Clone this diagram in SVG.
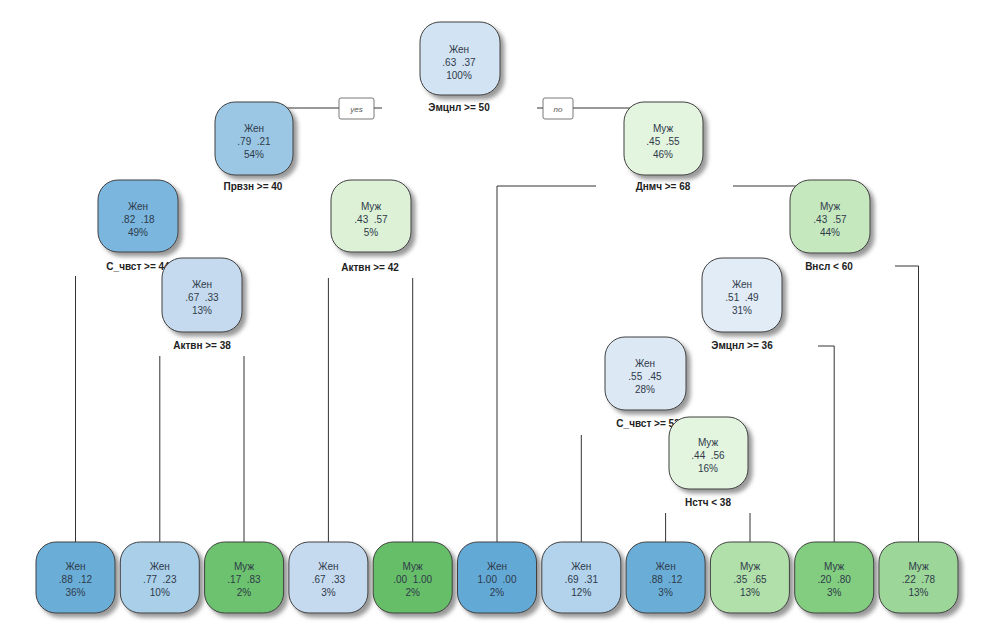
<svg xmlns="http://www.w3.org/2000/svg" width="996" height="640" viewBox="0 0 996 640">
<defs>
<filter id="sh" x="-20%" y="-20%" width="150%" height="150%">
<feDropShadow dx="4" dy="4" stdDeviation="2" flood-color="#777" flood-opacity="0.75"/>
</filter>
<style>
.b{stroke:#404040;stroke-width:1;filter:url(#sh)}
.t{font-family:"Liberation Sans",Arial,sans-serif;font-size:10px;fill:#2f3a4a;text-anchor:middle;white-space:pre}
.l{font-family:"Liberation Sans",Arial,sans-serif;font-size:10px;font-weight:bold;fill:#222;text-anchor:middle}
.c{fill:none;stroke:#333;stroke-width:1}
.yn{fill:#fff;stroke:#555;stroke-width:0.8}
.ynt{font-family:"Liberation Sans",Arial,sans-serif;font-size:8px;font-style:italic;fill:#555;text-anchor:middle}
</style>
</defs>
<rect width="996" height="640" fill="#fff"/>
<g id="connectors">
<path class="c" d="M382,108 H254"/>
<path class="c" d="M537,108 H663"/>
<path class="c" d="M596,186 H497 V542"/>
<path class="c" d="M733,186 H830"/>
<path class="c" d="M75.5,276 V542"/>
<path class="c" d="M159.8,356 V542"/>
<path class="c" d="M244,356 V542"/>
<path class="c" d="M328.4,278 V542"/>
<path class="c" d="M412.7,278 V542"/>
<path class="c" d="M581.3,435 V542"/>
<path class="c" d="M665.6,513 V542"/>
<path class="c" d="M750,513 V542"/>
<path class="c" d="M818,346 H834.2 V542"/>
<path class="c" d="M895,266 H918.5 V542"/>
<g id="yes"><rect class="yn" x="339" y="98" width="35" height="21" rx="2"/><text class="ynt" x="356.5" y="111.5">yes</text></g>
<g id="no"><rect class="yn" x="543" y="98" width="30" height="21" rx="2"/><text class="ynt" x="558" y="111.5">no</text></g>
</g>
<g id="n1"><rect class="b" x="420" y="22" width="80" height="73" rx="20" fill="#d2e3f3"/><text class="t" x="459" y="53">Жен</text><text class="t" x="459" y="66">.63  .37</text><text class="t" x="459" y="79">100%</text><text class="l" x="459" y="111">Эмцнл &gt;= 50</text></g>
<g id="n2"><rect class="b" x="215" y="102" width="78" height="73" rx="20" fill="#9bc7e4"/><text class="t" x="254" y="132">Жен</text><text class="t" x="254" y="145">.79  .21</text><text class="t" x="254" y="158">54%</text><text class="l" x="253" y="190">Првзн &gt;= 40</text></g>
<g id="n3"><rect class="b" x="624" y="102" width="79" height="73" rx="20" fill="#e3f4df"/><text class="t" x="663" y="132">Муж</text><text class="t" x="663" y="145">.45  .55</text><text class="t" x="663" y="158">46%</text><text class="l" x="663" y="190">Днмч &gt;= 68</text></g>
<g id="n4"><rect class="b" x="98" y="180" width="80" height="72" rx="20" fill="#7ab6de"/><text class="t" x="138" y="210">Жен</text><text class="t" x="138" y="223">.82  .18</text><text class="t" x="138" y="236">49%</text><text class="l" x="138" y="270">С_чвст &gt;= 44</text></g>
<g id="n5"><rect class="b" x="331" y="180" width="80" height="72" rx="20" fill="#dcf1d6"/><text class="t" x="371" y="210">Муж</text><text class="t" x="371" y="223">.43  .57</text><text class="t" x="371" y="236">5%</text><text class="l" x="370" y="271">Актвн &gt;= 42</text></g>
<g id="n7"><rect class="b" x="790" y="180" width="80" height="73" rx="20" fill="#c6e8bf"/><text class="t" x="830" y="210">Муж</text><text class="t" x="830" y="223">.43  .57</text><text class="t" x="830" y="236">44%</text><text class="l" x="829" y="270">Внсл &lt; 60</text></g>
<g id="n9"><rect class="b" x="162" y="258" width="80" height="74" rx="20" fill="#c5daef"/><text class="t" x="202" y="288">Жен</text><text class="t" x="202" y="301">.67  .33</text><text class="t" x="202" y="314">13%</text><text class="l" x="202" y="349">Актвн &gt;= 38</text></g>
<g id="n6"><rect class="b" x="702" y="258" width="80" height="74" rx="20" fill="#e1ecf7"/><text class="t" x="742" y="288">Жен</text><text class="t" x="742" y="301">.51  .49</text><text class="t" x="742" y="314">31%</text><text class="l" x="742" y="349">Эмцнл &gt;= 36</text></g>
<g id="n12"><rect class="b" x="605" y="337" width="81" height="73" rx="20" fill="#dde8f5"/><text class="t" x="645" y="367">Жен</text><text class="t" x="645" y="380">.55  .45</text><text class="t" x="645" y="393">28%</text><text class="l" x="648" y="427">С_чвст &gt;= 52</text></g>
<g id="n13"><rect class="b" x="669" y="417" width="79" height="72" rx="20" fill="#e3f4df"/><text class="t" x="708" y="446">Муж</text><text class="t" x="708" y="459">.44  .56</text><text class="t" x="708" y="472">16%</text><text class="l" x="708" y="506">Нстч &lt; 38</text></g>
<g id="leaf1"><rect class="b" x="36" y="542" width="79" height="71" rx="20" fill="#6aaed7"/><text class="t" x="75.5" y="570">Жен</text><text class="t" x="75.5" y="583">.88  .12</text><text class="t" x="75.5" y="596">36%</text></g>
<g id="leaf2"><rect class="b" x="120.3" y="542" width="79" height="71" rx="20" fill="#a9cfe9"/><text class="t" x="159.8" y="570">Жен</text><text class="t" x="159.8" y="583">.77  .23</text><text class="t" x="159.8" y="596">10%</text></g>
<g id="leaf3"><rect class="b" x="204.6" y="542" width="79" height="71" rx="20" fill="#6cc26e"/><text class="t" x="244" y="570">Муж</text><text class="t" x="244" y="583">.17  .83</text><text class="t" x="244" y="596">2%</text></g>
<g id="leaf4"><rect class="b" x="288.9" y="542" width="79" height="71" rx="20" fill="#c5daef"/><text class="t" x="328.4" y="570">Жен</text><text class="t" x="328.4" y="583">.67  .33</text><text class="t" x="328.4" y="596">3%</text></g>
<g id="leaf5"><rect class="b" x="373.2" y="542" width="79" height="71" rx="20" fill="#66be68"/><text class="t" x="412.7" y="570">Муж</text><text class="t" x="412.7" y="583">.00  1.00</text><text class="t" x="412.7" y="596">2%</text></g>
<g id="leaf6"><rect class="b" x="457.5" y="542" width="79" height="71" rx="20" fill="#64a9d6"/><text class="t" x="497" y="570">Жен</text><text class="t" x="497" y="583">1.00  .00</text><text class="t" x="497" y="596">2%</text></g>
<g id="leaf7"><rect class="b" x="541.8" y="542" width="79" height="71" rx="20" fill="#b2d3eb"/><text class="t" x="581.3" y="570">Жен</text><text class="t" x="581.3" y="583">.69  .31</text><text class="t" x="581.3" y="596">12%</text></g>
<g id="leaf8"><rect class="b" x="626.1" y="542" width="79" height="71" rx="20" fill="#6aaed7"/><text class="t" x="665.6" y="570">Жен</text><text class="t" x="665.6" y="583">.88  .12</text><text class="t" x="665.6" y="596">3%</text></g>
<g id="leaf9"><rect class="b" x="710.4" y="542" width="79" height="71" rx="20" fill="#b2e0ab"/><text class="t" x="750" y="570">Муж</text><text class="t" x="750" y="583">.35  .65</text><text class="t" x="750" y="596">13%</text></g>
<g id="leaf10"><rect class="b" x="794.7" y="542" width="79" height="71" rx="20" fill="#82cd80"/><text class="t" x="834.2" y="570">Муж</text><text class="t" x="834.2" y="583">.20  .80</text><text class="t" x="834.2" y="596">3%</text></g>
<g id="leaf11"><rect class="b" x="879" y="542" width="79" height="71" rx="20" fill="#9dd699"/><text class="t" x="918.5" y="570">Муж</text><text class="t" x="918.5" y="583">.22  .78</text><text class="t" x="918.5" y="596">13%</text></g>
</svg>
